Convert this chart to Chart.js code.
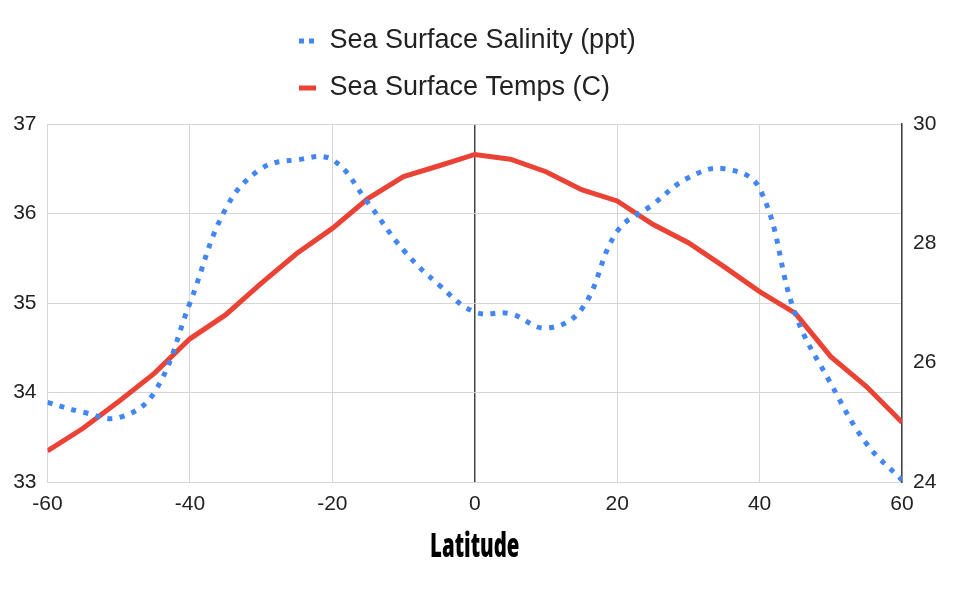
<!DOCTYPE html>
<html>
<head>
<meta charset="utf-8">
<script src="https://cdn.jsdelivr.net/npm/chart.js@4"></script>
<style>
html,body{margin:0;padding:0;background:#fff;}
#wrap{width:960px;height:600px;position:relative;}
</style>
</head>
<body>
<div id="wrap"><canvas id="c" width="960" height="600"></canvas></div>
<script>
const latitudes = [-60,-55,-50,-45,-40,-35,-30,-25,-20,-15,-10,-5,0,5,10,15,20,25,30,35,40,45,50,55,60];
const salinity = [33.89,33.78,33.72,34.0,35.0,36.05,36.5,36.6,36.6,36.12,35.59,35.2,34.9,34.88,34.72,34.93,35.8,36.1,36.4,36.5,36.28,34.88,34.1,33.43,33.02];
const temps = [24.52,24.9,25.35,25.82,26.4,26.8,27.33,27.83,28.25,28.75,29.12,29.3,29.49,29.41,29.2,28.9,28.71,28.32,28.01,27.61,27.19,26.83,26.1,25.6,25.0];
const xTicks = [-60,-40,-20,0,20,40,60];
const salinityTicks = [33,34,35,36,37];
const tempTicks = [24,26,28,30];

const BLUE = '#4285F4';
const RED = '#EA4335';
const TICK_COLOR = '#222';
const tickFont = {family: "'Liberation Sans', Arial, sans-serif", size: 21};
const LEGEND_W = 400;
const LEGEND_H = 116.5;
const LEGEND_LEFT = 279;
const TITLE_SQUEEZE = 0.6;

const layoutTweaks = {
  id: 'layoutTweaks',
  beforeLayout(chart) {
    const lg = chart.legend;
    if (lg && !lg._wrapPatched) {
      const orig = lg.update.bind(lg);
      lg.update = function(maxW, maxH, margins) {
        orig(LEGEND_W, maxH, margins);
        this.height = LEGEND_H;
      };
      lg._wrapPatched = true;
    }
  },
  afterLayout(chart) {
    const lg = chart.legend;
    if (lg) {
      lg.left = LEGEND_LEFT;
      lg.right = LEGEND_LEFT + LEGEND_W;
      lg.width = LEGEND_W;
    }
    const xs = chart.scales.x;
    if (xs && !xs._titlePatched) {
      const origTitle = xs.drawTitle.bind(xs);
      xs.drawTitle = function() {
        const ctx = this.ctx;
        const cx = (this.left + this.right) / 2;
        ctx.save();
        ctx.translate(cx, 0);
        ctx.scale(TITLE_SQUEEZE, 1);
        ctx.translate(-cx, 0);
        origTitle();
        ctx.restore();
      };
      xs._titlePatched = true;
    }
  }
};

new Chart(document.getElementById('c'), {
  type: 'line',
  data: {
    datasets: [
      {
        label: 'Sea Surface Salinity (ppt)',
        data: latitudes.map((x, i) => ({x, y: salinity[i]})),
        yAxisID: 'y',
        borderColor: BLUE,
        backgroundColor: BLUE,
        borderWidth: 5,
        borderDash: [5, 7.4],
        borderCapStyle: 'butt',
        tension: 0.4,
        pointRadius: 0,
        fill: false
      },
      {
        label: 'Sea Surface Temps (C)',
        data: latitudes.map((x, i) => ({x, y: temps[i]})),
        yAxisID: 'y1',
        borderColor: RED,
        backgroundColor: RED,
        borderWidth: 5,
        tension: 0,
        pointRadius: 0,
        fill: false
      }
    ]
  },
  plugins: [layoutTweaks],
  options: {
    responsive: false,
    animation: false,
    devicePixelRatio: 1,
    layout: {padding: {top: 7.5, bottom: 32, left: 0, right: 0}},
    plugins: {
      legend: {
        position: 'top',
        align: 'start',
        labels: {
          usePointStyle: true,
          pointStyle: 'line',
          pointStyleWidth: 17,
          padding: 20,
          color: '#222',
          font: {family: "'Liberation Sans', Arial, sans-serif", size: 27},
          generateLabels(chart) {
            return chart.data.datasets.map((ds, i) => ({
              text: ds.label,
              fillStyle: ds.borderColor,
              strokeStyle: ds.borderColor,
              lineWidth: 5,
              lineDash: i === 0 ? [5, 5, 5, 30] : [],
              lineCap: 'butt',
              pointStyle: 'line',
              fontColor: '#222',
              hidden: false,
              datasetIndex: i
            }));
          }
        }
      },
      tooltip: {enabled: false}
    },
    scales: {
      x: {
        type: 'linear',
        min: -60, max: 60,
        afterBuildTicks(scale) { scale.ticks = xTicks.map(v => ({value: v})); },
        afterFit(scale) { scale.height = 86; },
        ticks: {color: TICK_COLOR, font: tickFont, padding: 10, maxRotation: 0},
        grid: {
          color: ctx => (ctx.tick && ctx.tick.value === 0) ? '#444' : '#d6d6d6',
          lineWidth: ctx => (ctx.tick && ctx.tick.value === 0) ? 1.5 : 1,
          drawTicks: false
        },
        border: {color: '#d6d6d6'},
        title: {
          display: true,
          text: 'Latitude',
          color: '#000',
          font: {family: "'Noto Sans', 'DejaVu Sans', sans-serif", size: 34, weight: '900'},
          padding: {top: 14, bottom: 0}
        }
      },
      y: {
        position: 'left',
        min: 33, max: 37,
        afterBuildTicks(scale) { scale.ticks = salinityTicks.map(v => ({value: v})); },
        afterFit(scale) { scale.width = 47.5; },
        ticks: {color: TICK_COLOR, font: tickFont, padding: 11},
        grid: {color: '#d6d6d6', drawTicks: false},
        border: {color: '#d6d6d6'}
      },
      y1: {
        position: 'right',
        min: 24, max: 30,
        afterBuildTicks(scale) { scale.ticks = tempTicks.map(v => ({value: v})); },
        afterFit(scale) { scale.width = 58; },
        ticks: {color: TICK_COLOR, font: tickFont, padding: 11},
        grid: {drawOnChartArea: false, drawTicks: false},
        border: {color: '#444', width: 1.5}
      }
    }
  }
});
</script>
</body>
</html>
